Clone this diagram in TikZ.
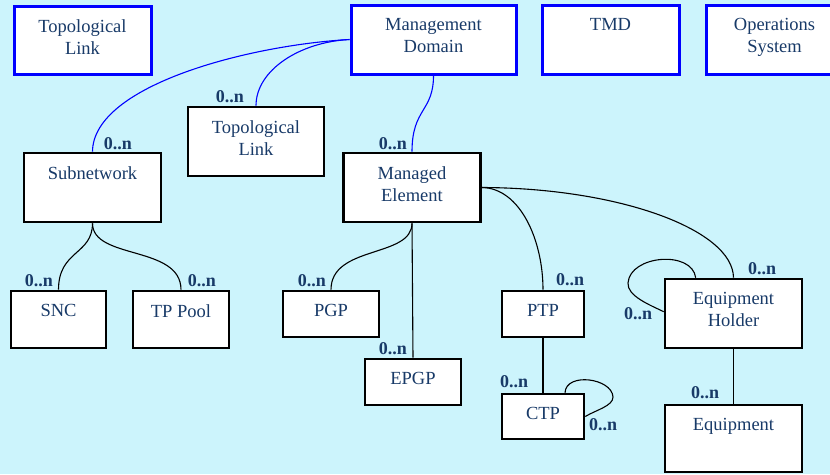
\documentclass[tikz,border=0pt]{standalone}
\usepackage{fontspec}
\setmainfont{Liberation Serif}
\definecolor{bgcyan}{RGB}{204,244,252}
\definecolor{txtblue}{RGB}{24,58,104}
\definecolor{boxblue}{RGB}{0,0,255}
\tikzset{
  obj/.style={draw=black, line width=2.6pt, fill=white, inner sep=0pt},
  dom/.style={obj, draw=boxblue, line width=3pt},
  caption/.style={anchor=north, yshift=-14.5pt, inner sep=0pt, align=center, text=txtblue, font=\rmfamily\fontsize{18.5}{22}\selectfont},
  card/.style={text=txtblue, inner sep=0pt, font=\rmfamily\bfseries\fontsize{18}{18}\selectfont},
  link/.style={line width=1.1pt},
  dlink/.style={link, draw=boxblue},
}
\begin{document}
\begin{tikzpicture}[x=1pt, y=-1pt]
\fill[bgcyan] (0,0) rectangle (830,474);
\useasboundingbox (0,0) rectangle (830,474);
\node[dom, minimum width=137pt, minimum height=68pt, label={[caption]north:Topological\\Link}] (tlinkA) at (82.5,40) {};
\node[dom, minimum width=165pt, minimum height=69pt, label={[caption]north:Management\\Domain}] (mdom) at (433.5,39.5) {};
\node[dom, minimum width=137pt, minimum height=69pt, label={[caption]north:TMD}] (tmd) at (610.5,39.5) {};
\node[dom, minimum width=137pt, minimum height=69pt, label={[caption]north:Operations\\System}] (opsys) at (774.5,39.5) {};
\node[obj, minimum width=137pt, minimum height=69pt, label={[caption]north:Subnetwork}] (subnet) at (92.5,187.5) {};
\node[obj, minimum width=136pt, minimum height=69pt, label={[caption]north:Topological\\Link}] (tlinkB) at (256,141.5) {};
\node[obj, minimum width=137pt, minimum height=69pt, label={[caption]north:Managed\\Element}] (melem) at (412,187.5) {};
\node[obj, minimum width=95pt, minimum height=57pt, label={[caption]north:SNC}] (snc) at (58.5,319.5) {};
\node[obj, minimum width=96pt, minimum height=57pt, label={[caption]north:TP Pool}] (tppool) at (181,319.5) {};
\node[obj, minimum width=96pt, minimum height=46pt, label={[caption]north:PGP}] (pgp) at (331,314) {};
\node[obj, minimum width=96pt, minimum height=46pt, label={[caption]north:EPGP}] (epgp) at (413,382) {};
\node[obj, minimum width=82pt, minimum height=46pt, label={[caption]north:PTP}] (ptp) at (543,314) {};
\node[obj, minimum width=82pt, minimum height=45pt, label={[caption]north:CTP}] (ctp) at (543,416.5) {};
\node[obj, minimum width=137pt, minimum height=69pt, label={[caption]north:Equipment\\Holder}] (eqholder) at (733.5,313.5) {};
\node[obj, minimum width=137pt, minimum height=67pt, label={[caption]north:Equipment}] (equip) at (733.5,438.5) {};
\draw[dlink] (mdom.west) .. controls (250,45) and (93,85) .. (subnet.north);
\draw[dlink] (mdom.west) .. controls (300,42) and (256,70) .. (tlinkB.north);
\draw[dlink] (mdom.south) .. controls (433.5,112) and (412,108) .. (melem.north);
\draw[link] (subnet.south) .. controls (92.5,255) and (58.5,250) .. (snc.north);
\draw[link] (subnet.south) .. controls (92.5,260) and (181,245) .. (tppool.north);
\draw[link] (melem.south) .. controls (412,258) and (331,245) .. (pgp.north);
\draw[link] (melem.south) -- (epgp.north);
\draw[link] (melem.east) .. controls (520,188) and (543,240) .. (ptp.north);
\draw[link] (melem.east) .. controls (620,188) and (733,230) .. (eqholder.north);
\draw[link] ([xshift=32pt]eqholder.north west) .. controls (692,250) and (630,255) .. (628,283) .. controls (627,296) and (650,305) .. ([yshift=-34pt]eqholder.north west);
\draw[link] (ptp.south) -- (ctp.north);
\draw[link] ([xshift=22pt]ctp.north) .. controls (566,372) and (612,378) .. (613,397) .. controls (613,406) and (596,410) .. (ctp.east);
\draw[link] (eqholder.south) -- (equip.north);
\node[card] (m1) at (118,144) {0..n};
\node[card] (m2) at (230,97) {0..n};
\node[card] (m3) at (393,144) {0..n};
\node[card] (m4) at (39,281) {0..n};
\node[card] (m5) at (202,281) {0..n};
\node[card] (m6) at (312,281) {0..n};
\node[card] (m7) at (393,349) {0..n};
\node[card] (m8) at (570,280) {0..n};
\node[card] (m9) at (762,269) {0..n};
\node[card] (m10) at (638,314) {0..n};
\node[card] (m11) at (514,382) {0..n};
\node[card] (m12) at (603,425) {0..n};
\node[card] (m13) at (705,393) {0..n};
\end{tikzpicture}
\end{document}
